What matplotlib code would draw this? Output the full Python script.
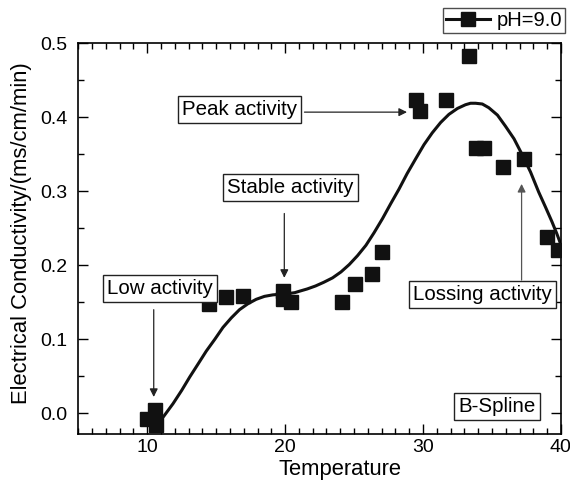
import numpy as np
import matplotlib
matplotlib.use("Agg")
import matplotlib.pyplot as plt
from matplotlib.ticker import MultipleLocator

plt.rcParams['font.family'] = ['Liberation Sans', 'DejaVu Sans']

# measured points (temperature, conductivity)
temp = [9.95, 10.55, 10.67, 14.51, 15.68, 16.93, 19.82, 19.85, 20.43,
        24.16, 25.08, 26.33, 27.0, 29.5, 29.76, 31.66, 33.32,
        33.81, 34.41, 35.8, 37.3, 38.98, 39.8]
cond = [-0.008, 0.005, -0.016, 0.148, 0.157, 0.158, 0.165, 0.155, 0.151,
        0.150, 0.175, 0.188, 0.218, 0.424, 0.408, 0.424, 0.483,
        0.358, 0.358, 0.333, 0.343, 0.238, 0.221]

# B-spline curve
spl_x = [10.67, 11.2, 11.87, 12.5, 13.08, 13.7, 14.28, 14.9, 15.49, 16.1,
         16.69, 17.3, 17.9, 18.5, 19.1, 19.7, 20.3, 20.7, 21.05, 21.6, 22.2,
         22.8, 23.44, 24.05, 24.65, 25.25, 25.86, 26.45, 27.06, 27.65, 28.26,
         28.85, 29.47, 30.07, 30.67, 31.28, 31.88, 32.5, 33.08, 33.45,
         33.81, 34.3, 34.77, 35.4, 35.98, 36.6, 37.18, 37.8, 38.39, 38.9,
         39.35, 39.7, 40.0]
spl_y = [-0.018, -0.004, 0.013, 0.031, 0.049, 0.067, 0.084, 0.100, 0.116, 0.129,
         0.140, 0.148, 0.154, 0.158, 0.160, 0.161, 0.162, 0.163, 0.165, 0.168, 0.172,
         0.177, 0.183, 0.191, 0.201, 0.213, 0.227, 0.244, 0.263, 0.283, 0.303,
         0.324, 0.344, 0.363, 0.379, 0.393, 0.404, 0.412, 0.417, 0.419,
         0.419, 0.418, 0.413, 0.403, 0.388, 0.371, 0.350, 0.326, 0.299, 0.278,
         0.259, 0.243, 0.228]

fig = plt.figure(figsize=(5.7, 4.94), dpi=100)
ax = fig.add_axes([0.1374, 0.1215, 0.8466, 0.7908])

ax.plot(spl_x, spl_y, color='#111111', lw=2.2, zorder=2, solid_joinstyle='round')
ax.plot(temp, cond, ls='none', marker='s', ms=9.5, color='#111111', zorder=3)

ax.set_xlim(5, 40)
ax.set_ylim(-0.028, 0.5)
ax.xaxis.set_minor_locator(MultipleLocator(1))
ax.yaxis.set_minor_locator(MultipleLocator(0.05))
ax.tick_params(which='both', direction='in', top=True, right=True, width=1.0, labelsize=14)
ax.tick_params(which='major', length=7)
ax.tick_params(which='minor', length=4)
ax.tick_params(axis='y', pad=8)
ax.set_xticks([10, 20, 30, 40])
ax.set_xticklabels(['10', '20', '30', '40'])
ax.set_yticks([0.0, 0.1, 0.2, 0.3, 0.4, 0.5])
ax.set_yticklabels(['0.0', '0.1', '0.2', '0.3', '0.4', '0.5'])
for s in ax.spines.values():
    s.set_linewidth(1.2)

ax.set_xlabel('Temperature', fontsize=15.8, va='center')
ax.xaxis.set_label_coords(0.542, -0.092)
ax.set_ylabel('Electrical Conductivity/(ms/cm/min)', fontsize=15.8, va='center')
ax.yaxis.set_label_coords(-0.118, 0.514)

box = dict(boxstyle='square,pad=0.2', fc='white', ec='#222222', lw=1.0)
ax.text(10.92, 0.169, 'Low activity', fontsize=14.8, ha='center', va='center', bbox=box)
ax.text(20.39, 0.305, 'Stable activity', fontsize=14.8, ha='center', va='center', bbox=box)
ax.text(16.7, 0.411, 'Peak activity', fontsize=14.8, ha='center', va='center', bbox=box)
ax.text(34.34, 0.160, 'Lossing activity', fontsize=14.8, ha='center', va='center', bbox=box)
ax.text(35.35, 0.009, 'B-Spline', fontsize=14.8, ha='center', va='center', bbox=box)

arw = dict(arrowstyle='-|>', color='#222222', lw=0.9, mutation_scale=12, shrinkA=0, shrinkB=0)
ax.annotate('', xy=(10.47, 0.022), xytext=(10.47, 0.14), arrowprops=arw)
ax.annotate('', xy=(19.94, 0.183), xytext=(19.94, 0.27), arrowprops=arw)
ax.annotate('', xy=(28.84, 0.407), xytext=(21.4, 0.407), arrowprops=arw)
ax.annotate('', xy=(37.15, 0.31), xytext=(37.15, 0.18),
            arrowprops=dict(arw, color='#555555'))

h, = ax.plot([], [], color='#111111', lw=2.2, marker='s', ms=9.5)
fig.legend([h], ['pH=9.0'], loc='upper right', bbox_to_anchor=(0.992, 0.984),
           fontsize=14.5, frameon=True, fancybox=False, edgecolor='#222222',
           numpoints=1, handlelength=2.2, handletextpad=0.35, borderpad=0.15,
           borderaxespad=0)

fig.savefig('out.png', dpi=100)
